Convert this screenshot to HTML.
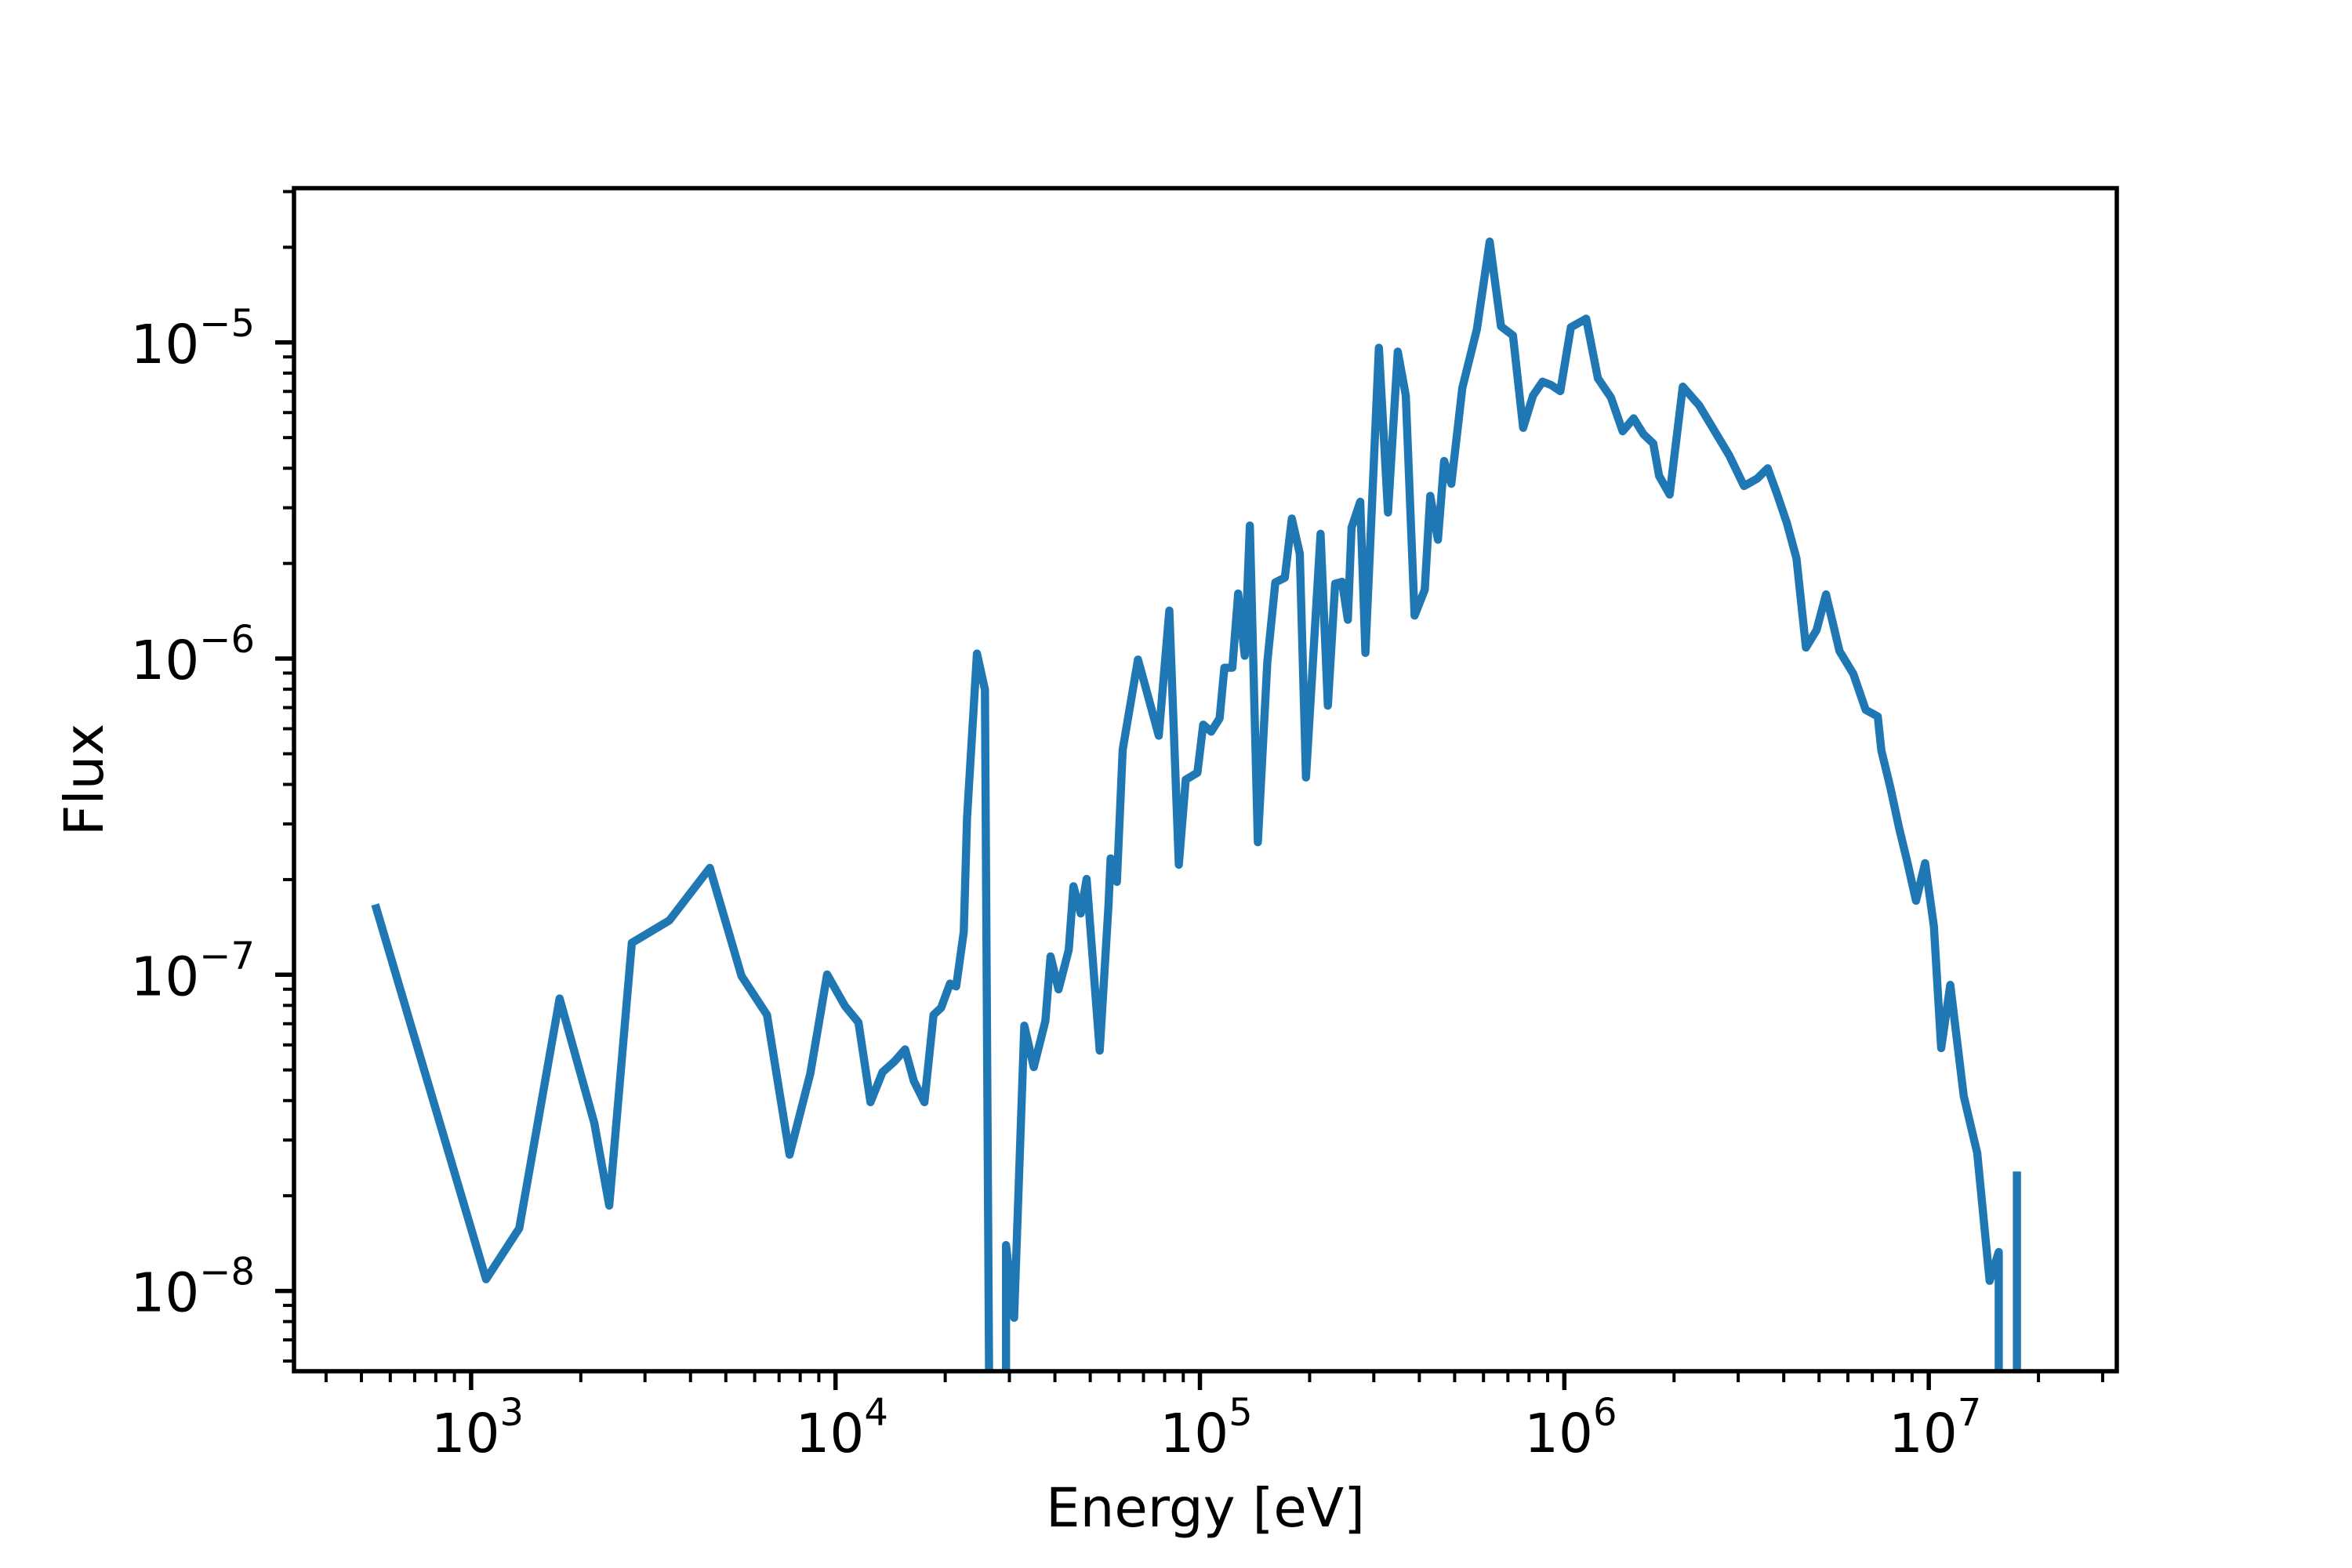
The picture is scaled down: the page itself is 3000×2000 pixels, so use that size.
<!DOCTYPE html>
<html><head><meta charset="utf-8"><style>
html,body{margin:0;padding:0;background:#fff;width:3000px;height:2000px;overflow:hidden;}
svg{display:block;font-family:"DejaVu Sans","Liberation Sans",sans-serif;}
</style></head><body>
<svg id="chart" width="3000" height="2000" viewBox="0 0 3000 2000" xmlns="http://www.w3.org/2000/svg">
<rect x="0" y="0" width="3000" height="2000" fill="#fff"/>
<g id="plot"></g>
</svg>
<script>
const logEnergy = [2.740,3.041,3.132,3.243,3.338,3.379,3.441,3.544,3.655,3.742,3.812,3.874,3.931,3.977,4.026,4.063,4.096,4.129,4.162,4.191,4.215,4.244,4.269,4.290,4.314,4.331,4.352,4.361,4.388,4.410,4.422,4.468,4.468,4.490,4.518,4.544,4.576,4.590,4.612,4.640,4.653,4.673,4.689,4.725,4.749,4.755,4.772,4.788,4.830,4.854,4.887,4.916,4.942,4.961,4.993,5.009,5.031,5.054,5.067,5.089,5.105,5.123,5.137,5.159,5.185,5.207,5.233,5.252,5.274,5.291,5.331,5.351,5.371,5.390,5.406,5.416,5.440,5.454,5.491,5.516,5.543,5.565,5.589,5.617,5.632,5.653,5.670,5.690,5.720,5.760,5.795,5.826,5.859,5.887,5.914,5.940,5.964,5.989,6.018,6.060,6.092,6.128,6.160,6.190,6.217,6.244,6.260,6.289,6.325,6.370,6.452,6.493,6.529,6.558,6.585,6.611,6.637,6.663,6.692,6.718,6.755,6.793,6.827,6.860,6.870,6.895,6.919,6.940,6.965,6.990,7.014,7.034,7.059,7.096,7.133,7.167,7.192,7.192,7.242,7.242];
const logFlux = [-6.790,-7.963,-7.802,-7.075,-7.469,-7.730,-6.899,-6.828,-6.662,-7.004,-7.127,-7.569,-7.312,-6.999,-7.099,-7.151,-7.403,-7.308,-7.274,-7.236,-7.336,-7.403,-7.127,-7.104,-7.028,-7.037,-6.864,-6.503,-5.984,-6.098,-8.4,-8.4,-7.855,-8.085,-7.161,-7.292,-7.146,-6.942,-7.046,-6.921,-6.720,-6.806,-6.697,-7.240,-6.780,-6.632,-6.706,-6.288,-6.003,-6.104,-6.244,-5.848,-6.652,-6.383,-6.361,-6.209,-6.231,-6.189,-6.029,-6.029,-5.794,-5.991,-5.579,-6.581,-6.010,-5.759,-5.744,-5.557,-5.668,-6.376,-5.605,-6.149,-5.763,-5.757,-5.877,-5.586,-5.504,-5.982,-5.017,-5.538,-5.029,-5.168,-5.864,-5.782,-5.485,-5.624,-5.375,-5.447,-5.144,-4.958,-4.681,-4.949,-4.978,-5.270,-5.168,-5.124,-5.135,-5.154,-4.952,-4.925,-5.113,-5.174,-5.281,-5.240,-5.290,-5.320,-5.422,-5.481,-5.140,-5.199,-5.356,-5.454,-5.431,-5.398,-5.484,-5.572,-5.683,-5.965,-5.910,-5.797,-5.976,-6.048,-6.162,-6.183,-6.291,-6.410,-6.538,-6.638,-6.766,-6.647,-6.847,-7.232,-7.032,-7.384,-7.564,-7.968,-7.877,-8.4,-8.4,-7.635];
const xTickExps = [3,4,5,6,7];
const yTickExps = [-5,-6,-7,-8];

const L=375,R=2700,T=240,B=1749;
const xMin=2.514, xMax=7.516, yMin=-8.254, yMax=-4.512;
const sx = v => L + (v - xMin)/(xMax - xMin)*(R - L);
const sy = v => B - (v - yMin)/(yMax - yMin)*(B - T);
const NS="http://www.w3.org/2000/svg";
const plot=document.getElementById('plot');
function mk(tag, attrs, parent){const e=document.createElementNS(NS,tag);for(const k in attrs)e.setAttribute(k,attrs[k]);(parent||plot).appendChild(e);return e;}

const defs=mk('defs',{});
const cp=mk('clipPath',{id:'clip'},defs);
mk('rect',{x:L,y:T,width:R-L,height:B-T},cp);

let d='';
for(let i=0;i<logEnergy.length;i++){d+=(i?'L':'M')+sx(logEnergy[i]).toFixed(1)+' '+sy(logFlux[i]).toFixed(1);}
const line=mk('path',{d:d,fill:'none',stroke:'#1f77b4','stroke-width':10.4,'stroke-linejoin':'round','stroke-linecap':'square','clip-path':'url(#clip)'});



const xt=mk('g',{});


for(let e=2;e<=7;e++){for(let m=1;m<=9;m++){const v=e+Math.log10(m);if(v<xMin||v>xMax)continue;const x=sx(v);
 if(m===1){mk('line',{x1:x,x2:x,y1:B,y2:B+24,stroke:'#000','stroke-width':5.5},xt);}
 else{mk('line',{x1:x,x2:x,y1:B,y2:B+14,stroke:'#000','stroke-width':4},xt);}}}
xTickExps.forEach(e=>{const t=mk('text',{x:sx(e)+8,y:1852,'font-size':69,'text-anchor':'middle',fill:'#000'});
 
 
 t.appendChild(document.createTextNode('10'));
 const s=mk('tspan',{'font-size':48,dy:-34},t);s.textContent=String(e);});

const yt=mk('g',{});


for(let e=-9;e<=-4;e++){for(let m=1;m<=9;m++){const v=e+Math.log10(m);if(v<yMin||v>yMax)continue;const y=sy(v);
 if(m===1){mk('line',{x1:L-24,x2:L,y1:y,y2:y,stroke:'#000','stroke-width':5.5},yt);}
 else{mk('line',{x1:L-14,x2:L,y1:y,y2:y,stroke:'#000','stroke-width':4},yt);}}}
yTickExps.forEach(e=>{const t=mk('text',{x:325,y:sy(e)+26,'font-size':69,'text-anchor':'end',fill:'#000'});
 
 
 t.appendChild(document.createTextNode('10'));
 const s=mk('tspan',{'font-size':48,dy:-34},t);s.textContent='\u2212'+String(-e);});

const fr=mk('rect',{x:L,y:T,width:R-L,height:B-T,fill:'none',stroke:'#000','stroke-width':5.5,'stroke-linecap':'square'});



const xl=mk('text',{x:(L+R)/2,y:1947,'font-size':69,'text-anchor':'middle',fill:'#000'});
xl.textContent='Energy [eV]';


const yl=mk('text',{x:0,y:0,'font-size':69,'text-anchor':'middle',fill:'#000',transform:'translate(131,'+((T+B)/2)+') rotate(-90)'});
yl.textContent='Flux';


</script>
</body></html>
